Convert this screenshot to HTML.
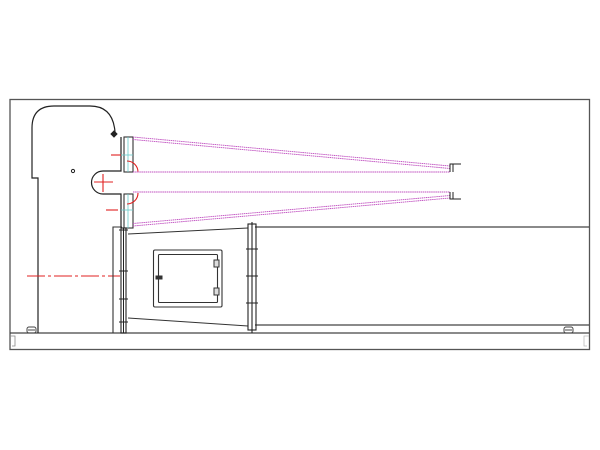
<!DOCTYPE html>
<html><head><meta charset="utf-8"><style>html,body{margin:0;padding:0;background:#fff}svg{display:block}</style></head>
<body>
<svg width="600" height="450" viewBox="0 0 600 450" xmlns="http://www.w3.org/2000/svg" fill="none" stroke-linecap="butt">
<rect x="10" y="99.5" width="579.5" height="250" stroke="#555" stroke-width="1.3"/>
<line x1="10" y1="333" x2="589" y2="333" stroke="#444" stroke-width="1.2"/>
<line x1="255" y1="325" x2="589" y2="325" stroke="#444" stroke-width="1.2"/>
<path d="M10 336 H15 V346 H12" stroke="#888" stroke-width="0.8"/>
<path d="M589 336 H584 V346 H587" stroke="#bbb" stroke-width="0.8"/>
<rect x="27" y="327" width="9" height="6" rx="2" stroke="#444" stroke-width="1"/>
<line x1="28" y1="330" x2="35" y2="330" stroke="#444"/>
<rect x="564" y="327" width="9" height="6" rx="2" stroke="#444" stroke-width="1"/>
<line x1="565" y1="330" x2="572" y2="330" stroke="#444"/>
<path d="M38 333 V178 H32 V128 Q32 106 54 106 H90 Q113 106 115 132" stroke="#222" stroke-width="1.2"/>
<path d="M114 131 l3 3 l-3 3 l-3 -3z" stroke="#222" fill="#222"/>
<circle cx="73" cy="171" r="1.6" stroke="#222"/>
<path d="M121 137 V171 H103 A11.5 11.5 0 0 0 103 194 H121 V228" stroke="#222" stroke-width="1.2"/>
<rect x="124" y="137" width="9" height="35" stroke="#333" stroke-width="1.1"/>
<rect x="124" y="194" width="9" height="34" stroke="#333" stroke-width="1.1"/>
<line x1="128" y1="137" x2="128" y2="172" stroke="#6cc" stroke-width="0.8"/>
<line x1="128" y1="194" x2="128" y2="228" stroke="#6cc" stroke-width="0.8"/>
<line x1="121" y1="155" x2="133" y2="155" stroke="#6cc" stroke-width="0.8"/>
<line x1="121" y1="210" x2="133" y2="210" stroke="#6cc" stroke-width="0.8"/>
<g stroke="#e02020" stroke-width="1.1">
<line x1="111" y1="155" x2="121" y2="155"/>
<line x1="106" y1="210" x2="118" y2="210"/>
<line x1="94" y1="182" x2="113" y2="182"/>
<line x1="103" y1="174" x2="103" y2="192"/>
<path d="M127 161 A11 11 0 0 1 138 172"/>
<path d="M138 193 A11 11 0 0 1 127 204"/>
<line x1="27" y1="276" x2="120" y2="276" stroke-dasharray="18,3,3,3"/>
</g>
<g stroke="#c050c0" stroke-width="0.9" stroke-dasharray="1.5,0.6">
<line x1="133" y1="137" x2="450" y2="166"/>
<line x1="133" y1="139.5" x2="450" y2="168.5"/>
<line x1="133" y1="172" x2="450" y2="172"/>
<line x1="133" y1="192" x2="450" y2="192"/>
<line x1="133" y1="226" x2="450" y2="198"/>
<line x1="133" y1="223.5" x2="450" y2="195.5"/>
</g>
<path d="M450 172 V164 H461 M453 172 V164" stroke="#222" stroke-width="1"/>
<path d="M450 192 V199 H461 M453 192 V199" stroke="#222" stroke-width="1"/>
<path d="M113 333 V227 H122" stroke="#333" stroke-width="1.1"/>
<line x1="255" y1="227" x2="589" y2="227" stroke="#444" stroke-width="1.2"/>
<rect x="121" y="228" width="5" height="105" stroke="#222" stroke-width="1.1"/>
<line x1="123.5" y1="228" x2="123.5" y2="333" stroke="#222"/>
<g stroke="#222" stroke-width="1">
<line x1="119" y1="230" x2="128" y2="230"/><line x1="119" y1="271" x2="128" y2="271"/>
<line x1="119" y1="299" x2="128" y2="299"/><line x1="119" y1="322" x2="128" y2="322"/>
</g>
<path d="M128 234 L248 228 M128 318 L248 326" stroke="#333" stroke-width="1.1"/>
<rect x="248" y="224" width="8" height="106" stroke="#222" stroke-width="1.1"/>
<line x1="252" y1="222" x2="252" y2="333" stroke="#222" stroke-width="1.1"/>
<g stroke="#222" stroke-width="1">
<line x1="246" y1="249" x2="258" y2="249"/><line x1="246" y1="276" x2="258" y2="276"/><line x1="246" y1="303" x2="258" y2="303"/>
</g>
<rect x="153.5" y="250" width="68.5" height="57" rx="1.5" stroke="#333" stroke-width="1.1"/>
<rect x="158.5" y="254.5" width="59" height="48" rx="1" stroke="#333" stroke-width="1.1"/>
<rect x="214" y="260" width="5" height="7" stroke="#333" fill="#ddd"/>
<rect x="214" y="288" width="5" height="7" stroke="#333" fill="#ddd"/>
<rect x="156" y="276" width="6" height="3" stroke="#333" fill="#333"/>
</svg>
</body></html>
